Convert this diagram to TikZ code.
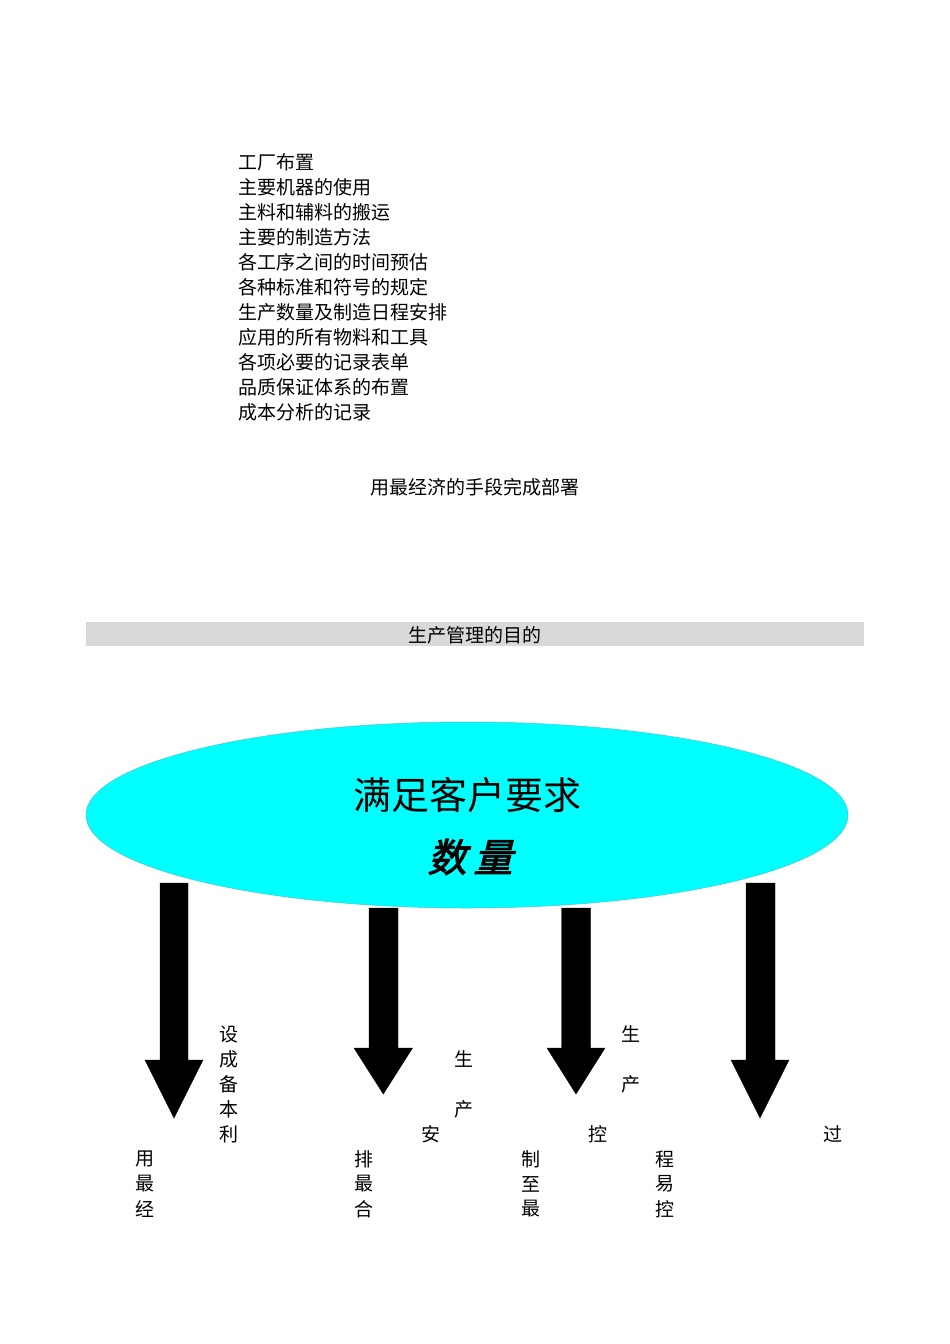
\documentclass[tikz,border=0pt]{standalone}
\usepackage{fontspec}
\usetikzlibrary{shapes.geometric}
\setmainfont{Liberation Serif}
\newfontfamily\cjk{Noto Sans CJK SC}
\newfontfamily\cjkbi[FakeSlant=0.25,FakeBold=2.5]{Noto Sans CJK SC}
\definecolor{barGray}{HTML}{D9D9D9}
\definecolor{ellCyan}{HTML}{00FFFF}
\definecolor{ellEdge}{HTML}{40C8C8}
\begin{document}
\begin{tikzpicture}[x=1pt,y=-1pt,
  txt/.style={inner sep=0pt,font=\cjk\fontsize{19}{25}\selectfont},
  listtxt/.style={txt,anchor=west},
  ch/.style={txt,anchor=center},
  bigarrow/.style={fill=black,draw=black,line width=0.4pt,line join=miter}]
\useasboundingbox (0,0) rectangle (950,1344);
% list
\node[listtxt] (l1) at (238,162) {工厂布置};
\node[listtxt] (l2) at (238,187) {主要机器的使用};
\node[listtxt] (l3) at (238,212) {主料和辅料的搬运};
\node[listtxt] (l4) at (238,237) {主要的制造方法};
\node[listtxt] (l5) at (238,262) {各工序之间的时间预估};
\node[listtxt] (l6) at (238,287) {各种标准和符号的规定};
\node[listtxt] (l7) at (238,312) {生产数量及制造日程安排};
\node[listtxt] (l8) at (238,337) {应用的所有物料和工具};
\node[listtxt] (l9) at (238,362) {各项必要的记录表单};
\node[listtxt] (l10) at (238,387) {品质保证体系的布置};
\node[listtxt] (l11) at (238,412) {成本分析的记录};
\node[ch] (sum) at (475,487) {用最经济的手段完成部署};
% gray bar
\fill[barGray] (86,622) rectangle (864,646);
\node[ch] (bar) at (475,635) {生产管理的目的};
% ellipse
\node[ellipse,fill=ellCyan,draw=ellEdge,line width=0.5pt,
      minimum width=762pt,minimum height=186pt,inner sep=0pt] (ell) at (467,815) {};
\node[inner sep=0pt,font=\cjk\fontsize{38}{40}\selectfont] (t1) at (467.5,795) {满足客户要求};
\node[inner sep=0pt,font=\cjkbi\fontsize{39}{40}\selectfont] (t2) at (470,857) {数\hspace{7pt}量};
% arrows
\fill[bigarrow] (160,883) -- (188,883) -- (188,1060) -- (203,1060) -- (174,1118)
  -- (145,1060) -- (160,1060) -- cycle;
\fill[bigarrow] (369,908) -- (398,908) -- (398,1048) -- (412.5,1048) -- (383.3,1094)
  -- (354,1048) -- (369,1048) -- cycle;
\fill[bigarrow] (561.5,908) -- (590.5,908) -- (590.5,1048) -- (605,1048) -- (576,1094)
  -- (547,1048) -- (561.5,1048) -- cycle;
\fill[bigarrow] (746,883) -- (775,883) -- (775,1060) -- (789,1060) -- (760,1118)
  -- (731,1060) -- (746,1060) -- cycle;
% scattered characters
\node[ch] (a1) at (229,1034) {设};
\node[ch] (a2) at (229,1059) {成};
\node[ch] (a3) at (229,1084) {备};
\node[ch] (a4) at (229,1109) {本};
\node[ch] (a5) at (229,1134) {利};
\node[ch] (b1) at (145,1159) {用};
\node[ch] (b2) at (145,1184) {最};
\node[ch] (b3) at (145,1209) {经};
\node[ch] (c1) at (464,1059) {生};
\node[ch] (c2) at (464,1109) {产};
\node[ch] (c3) at (431,1134) {安};
\node[ch] (d1) at (364,1159) {排};
\node[ch] (d2) at (364,1184) {最};
\node[ch] (d3) at (364,1209) {合};
\node[ch] (e1) at (631,1034) {生};
\node[ch] (e2) at (631,1084) {产};
\node[ch] (e3) at (598,1134) {控};
\node[ch] (f1) at (531,1159) {制};
\node[ch] (f2) at (531,1184) {至};
\node[ch] (f3) at (531,1209) {最};
\node[ch] (g1) at (665,1159) {程};
\node[ch] (g2) at (665,1184) {易};
\node[ch] (g3) at (665,1209) {控};
\node[ch] (h1) at (833,1134) {过};
\end{tikzpicture}
\end{document}
